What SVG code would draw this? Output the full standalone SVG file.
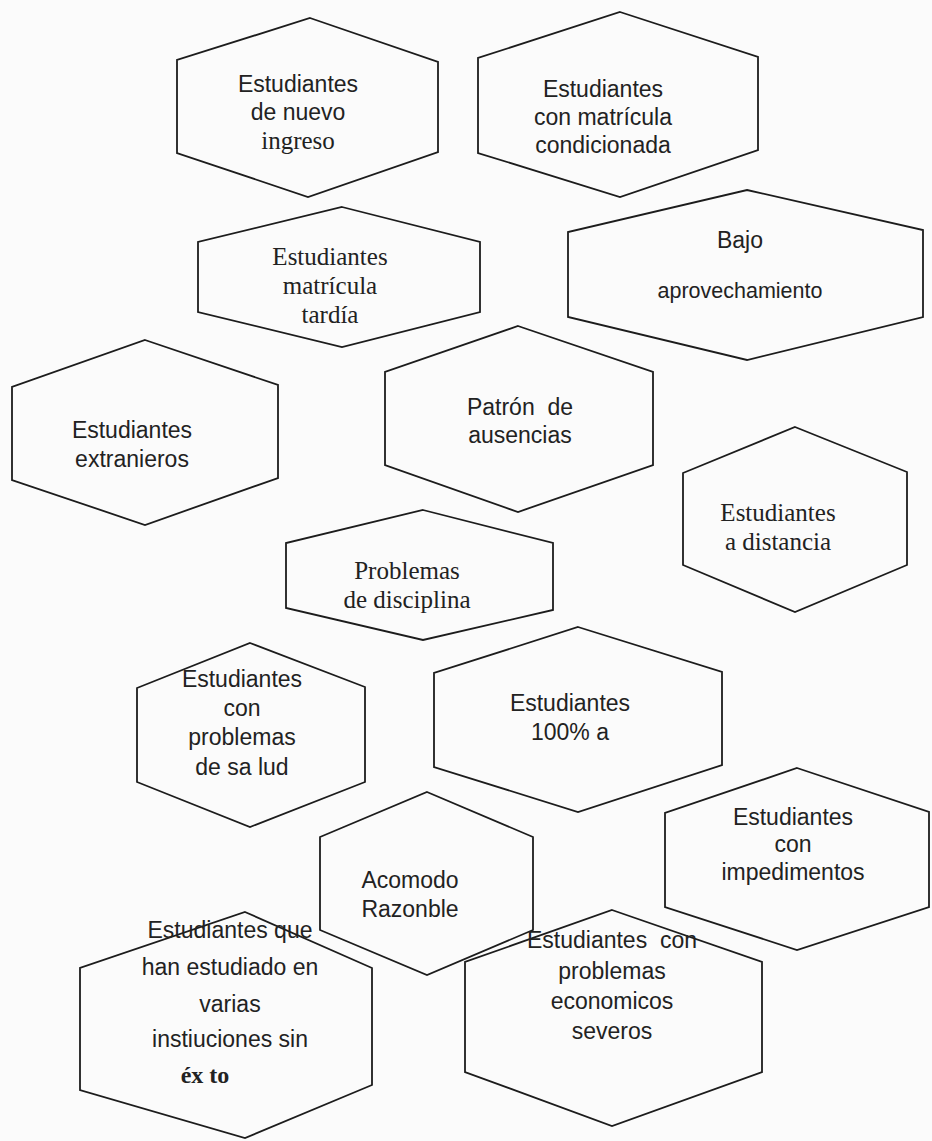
<svg xmlns="http://www.w3.org/2000/svg" width="932" height="1141" viewBox="0 0 932 1141">
<style>
.hex{fill:none;stroke:#1c1c1c;stroke-width:1.8;stroke-linejoin:miter}
.s{font-family:"Liberation Sans","Open Sans",sans-serif;font-size:23px;fill:#222;text-anchor:middle}
.r{font-family:"Liberation Serif","DejaVu Serif",serif;font-size:25px;fill:#222;text-anchor:middle}
</style>
<rect width="932" height="1141" fill="#fbfbfb"/>
<g id="connectors"></g>
<g id="n1">
<polygon class="hex" points="310,18 438,62 438,152 308,197 177,153 177,60"/>
<text class="s" x="298" y="92">Estudiantes</text>
<text class="s" x="298" y="120">de nuevo</text>
<text class="r" x="298" y="149">ingreso</text>
</g>
<g id="n2">
<polygon class="hex" points="620,12 758,57 758,150 620,197 478,153 478,58"/>
<text class="s" x="603" y="97">Estudiantes</text>
<text class="s" x="603" y="125">con matrícula</text>
<text class="s" x="603" y="153">condicionada</text>
</g>
<g id="n3">
<polygon class="hex" points="342,207 480,242 480,312 342,347 198,312 198,242"/>
<text class="r" x="330" y="265">Estudiantes</text>
<text class="r" x="330" y="294">matrícula</text>
<text class="r" x="330" y="323">tardía</text>
</g>
<g id="n4">
<polygon class="hex" points="747,190 923,230 923,317 747,360 568,317 568,232"/>
<text class="s" x="740" y="248">Bajo</text>
<text class="s" x="740" y="298" style="font-size:21.5px">aprovechamiento</text>
</g>
<g id="n5">
<polygon class="hex" points="145,340 278,385 278,478 145,525 12,480 12,387"/>
<text class="s" x="132" y="438">Estudiantes</text>
<text class="s" x="132" y="467">extranieros</text>
</g>
<g id="n6">
<polygon class="hex" points="518,326 653,372 653,465 518,512 385,465 385,372"/>
<text class="s" x="520" y="415" xml:space="preserve">Patrón  de</text>
<text class="s" x="520" y="443">ausencias</text>
</g>
<g id="n7">
<polygon class="hex" points="795,427 907,472 907,565 795,612 683,565 683,473"/>
<text class="r" x="778" y="521">Estudiantes</text>
<text class="r" x="778" y="550">a distancia</text>
</g>
<g id="n8">
<polygon class="hex" points="423,510 553,543 553,610 423,640 286,608 286,543"/>
<text class="r" x="407" y="579">Problemas</text>
<text class="r" x="407" y="608">de disciplina</text>
</g>
<g id="n9">
<polygon class="hex" points="250,643 365,687 365,782 250,827 137,782 137,688"/>
<text class="s" x="242" y="687">Estudiantes</text>
<text class="s" x="242" y="716">con</text>
<text class="s" x="242" y="745">problemas</text>
<text class="s" x="242" y="775">de sa lud</text>
</g>
<g id="n10">
<polygon class="hex" points="578,627 722,672 722,765 578,812 434,767 434,673"/>
<text class="s" x="570" y="711">Estudiantes</text>
<text class="s" x="570" y="740">100% a</text>
</g>
<g id="n11">
<polygon class="hex" points="427,792 533,837 533,930 427,975 320,930 320,837"/>
<text class="s" x="410" y="888">Acomodo</text>
<text class="s" x="410" y="917">Razonble</text>
</g>
<g id="n12">
<polygon class="hex" points="797,768 929,812 929,907 797,950 665,907 665,813"/>
<text class="s" x="793" y="825">Estudiantes</text>
<text class="s" x="793" y="852">con</text>
<text class="s" x="793" y="880">impedimentos</text>
</g>
<g id="n13">
<polygon class="hex" points="245,912 372,968 372,1085 245,1138 80,1090 80,968"/>
<text class="s" x="230" y="938">Estudiantes que</text>
<text class="s" x="230" y="975">han estudiado en</text>
<text class="s" x="230" y="1012">varias</text>
<text class="s" x="230" y="1047">instiuciones sin</text>
<text class="r" x="205" y="1083" font-weight="bold" style="font-size:24px">éx to</text>
</g>
<g id="n14">
<polygon class="hex" points="612,910 762,962 762,1072 612,1126 465,1072 465,962"/>
<text class="s" x="612" y="948" xml:space="preserve">Estudiantes  con</text>
<text class="s" x="612" y="979">problemas</text>
<text class="s" x="612" y="1009">economicos</text>
<text class="s" x="612" y="1039">severos</text>
</g>
</svg>
